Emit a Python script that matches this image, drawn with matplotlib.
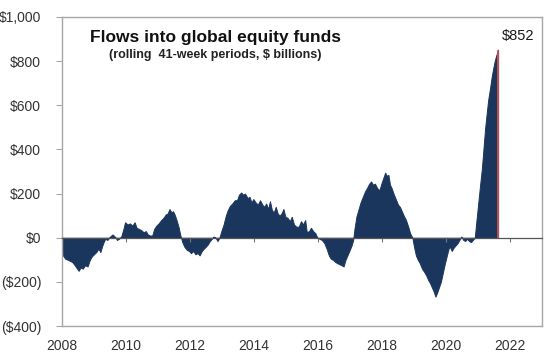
import matplotlib
matplotlib.use("Agg")
import matplotlib.pyplot as plt
from matplotlib.ticker import FuncFormatter

# rolling 41-week flows, $ billions
years = [
    2008.00, 2008.03, 2008.10, 2008.18, 2008.25, 2008.32, 2008.40, 2008.47, 2008.52, 2008.58,
    2008.65, 2008.72, 2008.80, 2008.87, 2008.93, 2009.00, 2009.07, 2009.14, 2009.20, 2009.25,
    2009.30, 2009.35, 2009.42, 2009.50, 2009.58, 2009.65, 2009.72, 2009.78, 2009.85, 2009.92,
    2009.97, 2010.05, 2010.12, 2010.20, 2010.27, 2010.33, 2010.40, 2010.47, 2010.55, 2010.62,
    2010.68, 2010.75, 2010.82, 2010.88, 2010.95, 2011.02, 2011.10, 2011.17, 2011.24, 2011.30,
    2011.36, 2011.42, 2011.47, 2011.52, 2011.58, 2011.64, 2011.70, 2011.76, 2011.82, 2011.90,
    2011.97, 2012.03, 2012.10, 2012.17, 2012.24, 2012.30, 2012.37, 2012.43, 2012.50, 2012.56,
    2012.62, 2012.68, 2012.74, 2012.80, 2012.86, 2012.92, 2012.98, 2013.05, 2013.12, 2013.18,
    2013.25, 2013.32, 2013.40, 2013.47, 2013.53, 2013.60, 2013.66, 2013.72, 2013.80, 2013.86,
    2013.92, 2013.98, 2014.05, 2014.12, 2014.19, 2014.26, 2014.32, 2014.38, 2014.44, 2014.50,
    2014.56, 2014.62, 2014.68, 2014.74, 2014.80, 2014.86, 2014.92, 2014.98, 2015.05, 2015.12,
    2015.18, 2015.25, 2015.32, 2015.40, 2015.47, 2015.53, 2015.60, 2015.65, 2015.72, 2015.78,
    2015.85, 2015.92, 2015.98, 2016.05, 2016.12, 2016.20, 2016.27, 2016.34, 2016.40, 2016.47,
    2016.54, 2016.60, 2016.67, 2016.74, 2016.80, 2016.86, 2016.92, 2016.98, 2017.05, 2017.10,
    2017.14, 2017.20, 2017.27, 2017.33, 2017.40, 2017.47, 2017.53, 2017.60, 2017.66, 2017.72,
    2017.78, 2017.85, 2017.92, 2017.98, 2018.04, 2018.10, 2018.15, 2018.20, 2018.25, 2018.30,
    2018.36, 2018.43, 2018.50, 2018.56, 2018.62, 2018.68, 2018.75, 2018.82, 2018.88, 2018.95,
    2019.00, 2019.06, 2019.12, 2019.18, 2019.25, 2019.32, 2019.38, 2019.44, 2019.50, 2019.56,
    2019.62, 2019.67, 2019.72, 2019.78, 2019.84, 2019.90, 2019.96, 2020.02, 2020.08, 2020.12,
    2020.18, 2020.24, 2020.30, 2020.36, 2020.42, 2020.48, 2020.54, 2020.60, 2020.66, 2020.72,
    2020.78, 2020.84, 2020.90, 2020.94, 2021.00, 2021.06, 2021.12, 2021.17, 2021.22, 2021.27,
    2021.32, 2021.38, 2021.43, 2021.48, 2021.53, 2021.58, 2021.63,
]
flows = [
    -50, -80, -95, -100, -105, -110, -125, -140, -150, -135,
    -140, -125, -130, -100, -85, -75, -65, -50, -65, -40,
    -20, -5, -10, 5, 15, 5, -10, -5, 5, 40,
    70, 60, 65, 55, 70, 45, 40, 35, 25, 30,
    15, 10, 10, 40, 55, 65, 80, 90, 105, 110,
    130, 115, 120, 105, 80, 50, 10, -20, -40, -55,
    -60, -70, -60, -75, -70, -80, -60, -50, -40, -30,
    -15, -5, 5, 0, -15, 0, 30, 60, 100, 125,
    145, 155, 170, 170, 195, 205, 195, 200, 180, 185,
    160, 175, 160, 150, 170, 150, 140, 155, 130, 165,
    125, 115, 140, 110, 100, 110, 130, 95, 90, 75,
    95, 60, 50, 50, 75, 60, 80, 25, 30, 45,
    30, 20, 0, -5, -10, -25, -50, -80, -95, -100,
    -110, -115, -120, -125, -130, -100, -80, -60, -35, -10,
    40, 95, 130, 160, 185, 210, 225, 245, 255, 240,
    245, 225, 215, 245, 270, 295, 280, 285, 240, 225,
    200, 175, 150, 140, 120, 100, 80, 50, 20, 0,
    -40, -80, -100, -115, -140, -155, -170, -190, -205, -225,
    -245, -267, -250, -225, -200, -160, -120, -85, -50, -40,
    -60, -45, -35, -25, -10, 5, -10, -15, -5, -15,
    -20, -10, 0, 60, 145, 230, 310, 400, 490, 560,
    625, 680, 730, 770, 805, 830, 852,
]
year_ticks = [2008, 2010, 2012, 2014, 2016, 2018, 2020, 2022]
value_ticks = [-400, -200, 0, 200, 400, 600, 800, 1000]

navy = "#1b365d"
frame = "#a6a6a6"
text_col = "#333333"

plt.rcParams["font.family"] = ["Liberation Sans", "DejaVu Sans"]

fig = plt.figure(figsize=(5.6, 3.6), dpi=100)
ax = fig.add_axes([0.1107, 0.0944, 0.8571, 0.8584])

ax.fill_between(years, flows, 0, color=navy, edgecolor=navy, linewidth=0.7)
ax.vlines(years[-1], 0, flows[-1], color="#d9534f", linewidth=1.2, zorder=3)
ax.annotate(f"${flows[-1]:,}", (years[-1], flows[-1]), xytext=(3, 5),
            textcoords="offset points", ha="left", va="bottom",
            fontsize=10.5, color="#1a1a1a")

ax.set_xlim(2008, 2023)
ax.set_ylim(-400, 1000)
ax.set_yticks(value_ticks)
ax.yaxis.set_major_formatter(FuncFormatter(
    lambda v, _: f"(${abs(v):,.0f})" if v < 0 else f"${v:,.0f}"))
ax.tick_params(axis="y", direction="out", length=4, width=0.8, color=frame,
               labelsize=10, labelcolor=text_col, pad=11)

# zero line carries the x tick marks, frame bottom carries the labels
ax.spines["bottom"].set_position(("data", 0))
ax.spines["bottom"].set_color("#555555")
ax.spines["bottom"].set_linewidth(0.9)
ax.spines["bottom"].set_zorder(4)
ax.set_xticks(year_ticks)
ax.tick_params(axis="x", direction="out", length=3, width=0.8, color="#777777",
               labelbottom=False)

sec = ax.secondary_xaxis("bottom")
sec.set_xticks(year_ticks)
sec.tick_params(length=0, labelsize=10, labelcolor=text_col, pad=9)
sec.spines["bottom"].set_color(frame)
sec.spines["bottom"].set_linewidth(1.0)

for side in ["left", "top", "right"]:
    ax.spines[side].set_color(frame)
    ax.spines[side].set_linewidth(1.0)

ax.text(0.319, 0.935, "Flows into global equity funds", transform=ax.transAxes,
        ha="center", va="center", fontsize=12.5, fontweight="bold", color="#111111")
ax.text(0.319, 0.877, "(rolling  41-week periods, $ billions)", transform=ax.transAxes,
        ha="center", va="center", fontsize=9, fontweight="bold", color="#222222")

fig.savefig("out.png", dpi=100, facecolor="white")
